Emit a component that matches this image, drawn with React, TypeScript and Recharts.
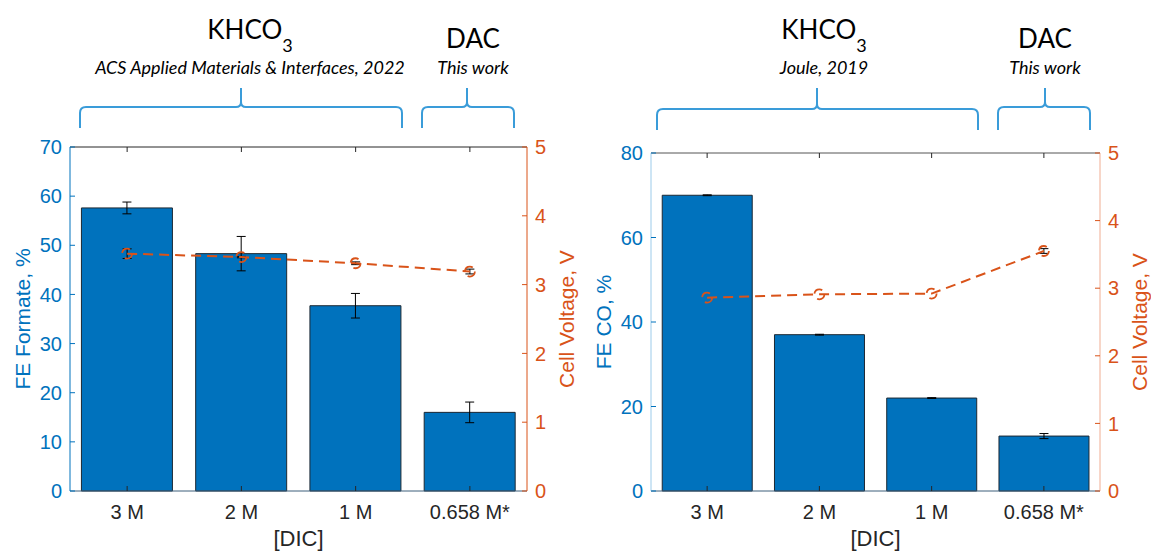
import React from "react";
import {
  ComposedChart,
  Bar,
  Line,
  XAxis,
  YAxis,
  ErrorBar,
  ReferenceLine,
} from "recharts";

// ---- data ----
const CATEGORIES = ["3 M", "2 M", "1 M", "0.658 M*"];

// left panel: formate (ACS AMI 2022 vs this work)
const FORMATE_FE = [57.6, 48.3, 37.7, 16.0];
const FORMATE_FE_ERR = [1.2, 3.5, 2.5, 2.1];
const FORMATE_VOLT = [3.45, 3.4, 3.31, 3.19];
const FORMATE_VOLT_ERR = [0.07, 0.01, 0.02, 0.035];
const FORMATE_TICKS = [0, 10, 20, 30, 40, 50, 60, 70];

// right panel: CO (Joule 2019 vs this work)
const CO_FE = [70.0, 37.0, 22.0, 13.0];
const CO_FE_ERR = [0.1, 0.1, 0.1, 0.6];
const CO_VOLT = [2.86, 2.91, 2.92, 3.55];
const CO_VOLT_ERR = [0, 0, 0, 0.035];
const CO_TICKS = [0, 20, 40, 60, 80];

const VOLT_TICKS = [0, 1, 2, 3, 4, 5];

const BLUE = "#0072BD";
const ORANGE = "#D95319";
const DARK = "#262626";
const BRACE = "#3a9cd9";
const AXIS_FONT = "'Liberation Sans', Arial, Helvetica, sans-serif";
const NOTE_FONT = "Lato, 'Open Sans', sans-serif";

const TICK_MARGIN = 8;
const TICK_LEN = 5;
const X_TICK_MARGIN = 14;

const buildRows = (fe: number[], feErr: number[], volt: number[], voltErr: number[]) =>
  CATEGORIES.map((c, i) => ({
    dic: c,
    fe: fe[i],
    feErr: feErr[i],
    volt: volt[i],
    voltErr: voltErr[i],
  }));

const formateRows = buildRows(FORMATE_FE, FORMATE_FE_ERR, FORMATE_VOLT, FORMATE_VOLT_ERR);
const coRows = buildRows(CO_FE, CO_FE_ERR, CO_VOLT, CO_VOLT_ERR);

// MATLAB style: tick marks point into the plot box
const LeftTick = (props: any) => {
  const { x, y, payload } = props;
  const ax = x + TICK_MARGIN;
  return (
    <g>
      <line x1={ax} y1={y} x2={ax + TICK_LEN} y2={y} stroke={BLUE} strokeWidth={1} />
      <text x={x} y={y} dy="0.36em" textAnchor="end" fill={BLUE} fontSize={20} fontFamily={AXIS_FONT}>
        {payload.value}
      </text>
    </g>
  );
};

const RightTick = (props: any) => {
  const { x, y, payload } = props;
  const ax = x - TICK_MARGIN;
  return (
    <g>
      <line x1={ax} y1={y} x2={ax - TICK_LEN} y2={y} stroke={ORANGE} strokeWidth={1} />
      <text x={x} y={y} dy="0.36em" textAnchor="start" fill={ORANGE} fontSize={20} fontFamily={AXIS_FONT}>
        {payload.value}
      </text>
    </g>
  );
};

const makeBottomTick = (plotTop: number) => (props: any) => {
  const { x, y, payload } = props;
  const ay = y - X_TICK_MARGIN;
  return (
    <g>
      <line x1={x} y1={ay} x2={x} y2={ay - TICK_LEN} stroke={DARK} strokeWidth={1} />
      <line x1={x} y1={plotTop} x2={x} y2={plotTop + TICK_LEN} stroke={DARK} strokeWidth={1} />
      <text x={x} y={y} dy="0.72em" textAnchor="middle" fill={DARK} fontSize={20} fontFamily={AXIS_FONT}>
        {payload.value}
      </text>
    </g>
  );
};

const yTitle = (text: string, color: string, dx: number) => (props: any) => {
  const vb = props.viewBox;
  if (!vb) return null;
  const cx = vb.x + dx;
  const cy = vb.y + vb.height / 2;
  return (
    <text
      x={cx}
      y={cy}
      transform={`rotate(-90, ${cx}, ${cy})`}
      textAnchor="middle"
      dominantBaseline="central"
      fill={color}
      fontSize={21}
      fontFamily={AXIS_FONT}
    >
      {text}
    </text>
  );
};

const xTitle = (props: any) => {
  const vb = props.viewBox;
  if (!vb) return null;
  return (
    <text
      x={vb.x + vb.width / 2}
      y={vb.y + 55}
      textAnchor="middle"
      fill={DARK}
      fontSize={22}
      fontFamily={AXIS_FONT}
    >
      [DIC]
    </text>
  );
};

type PanelProps = {
  rows: any[];
  width: number;
  margin: { top: number; right: number; bottom: number; left: number };
  feMax: number;
  feTicks: number[];
  feLabel: string;
  leftAxisColor: string;
  rightAxisColor: string;
  topColor: string;
};

function Panel({ rows, width, margin, feMax, feTicks, feLabel, leftAxisColor, rightAxisColor, topColor }: PanelProps) {
  return (
    <ComposedChart width={width} height={551} data={rows} margin={margin} barCategoryGap="10%">
      <XAxis
        dataKey="dic"
        height={60}
        tickSize={0}
        tickMargin={X_TICK_MARGIN}
        axisLine={{ stroke: "#3d5f7a" }}
        tick={makeBottomTick(margin.top)}
        interval={0}
        label={xTitle}
      />
      <YAxis
        yAxisId="left"
        width={60}
        domain={[0, feMax]}
        ticks={feTicks}
        tickSize={0}
        tickMargin={TICK_MARGIN}
        axisLine={{ stroke: leftAxisColor }}
        tick={LeftTick}
        label={yTitle(feLabel, BLUE, 12)}
      />
      <YAxis
        yAxisId="right"
        orientation="right"
        width={45}
        domain={[0, 5]}
        ticks={VOLT_TICKS}
        tickSize={0}
        tickMargin={TICK_MARGIN}
        axisLine={{ stroke: rightAxisColor }}
        tick={RightTick}
        label={yTitle("Cell Voltage, V", ORANGE, 39)}
      />
      <ReferenceLine yAxisId="left" y={feMax} stroke={topColor} strokeWidth={1} />
      <Bar
        yAxisId="left"
        dataKey="fe"
        fill={BLUE}
        stroke="#1c2833"
        strokeWidth={1}
        isAnimationActive={false}
      >
        <ErrorBar dataKey="feErr" width={4.5} stroke="#000" strokeWidth={1} direction="y" />
      </Bar>
      <Line
        yAxisId="right"
        dataKey="volt"
        stroke={ORANGE}
        strokeWidth={2}
        strokeDasharray="10 6"
        dot={{ r: 5, stroke: ORANGE, strokeWidth: 1.8, fill: "none" }}
        activeDot={false}
        isAnimationActive={false}
      >
        <ErrorBar dataKey="voltErr" width={4.5} stroke="#000" strokeWidth={1} direction="y" />
      </Line>
    </ComposedChart>
  );
}

// curly brace opening downward with a tip pointing up
function bracePath(x0: number, x1: number, xm: number, yTip: number, yH: number, yEnd: number) {
  const r = 6;
  const rt = 5;
  return [
    `M ${x0} ${yEnd}`,
    `L ${x0} ${yH + r}`,
    `Q ${x0} ${yH} ${x0 + r} ${yH}`,
    `L ${xm - rt} ${yH}`,
    `Q ${xm} ${yH} ${xm} ${yH - rt}`,
    `L ${xm} ${yTip}`,
    `M ${xm} ${yH - rt}`,
    `Q ${xm} ${yH} ${xm + rt} ${yH}`,
    `L ${x1 - r} ${yH}`,
    `Q ${x1} ${yH} ${x1} ${yH + r}`,
    `L ${x1} ${yEnd}`,
  ].join(" ");
}

function Header({ cx, title, sub, big }: { cx: number; title: string; sub: string; big: boolean }) {
  return (
    <g fontFamily={NOTE_FONT} fill="#000">
      {big ? (
        <text x={cx} y={39} textAnchor="middle" fontSize={26}>
          {title}
          <tspan fontSize={18} dy={13}>3</tspan>
        </text>
      ) : (
        <text x={cx} y={48} textAnchor="middle" fontSize={26}>
          {title}
        </text>
      )}
      <text x={cx} y={74} textAnchor="middle" fontSize={18} fontStyle="italic">
        {sub}
      </text>
    </g>
  );
}

export default function App() {
  return (
    <div style={{ position: "absolute", left: 0, top: 0, width: 1151, height: 551, background: "#fff", overflow: "hidden" }}>
      <div style={{ position: "absolute", left: 0, top: 0 }}>
        <Panel
          rows={formateRows}
          width={580}
          margin={{ top: 147, right: 8, bottom: 0, left: 10 }}
          feMax={70}
          feTicks={FORMATE_TICKS}
          feLabel="FE Formate, %"
          leftAxisColor={BLUE}
          rightAxisColor={ORANGE}
          topColor={DARK}
        />
      </div>
      <div style={{ position: "absolute", left: 580, top: 0 }}>
        <Panel
          rows={coRows}
          width={571}
          margin={{ top: 153, right: 6, bottom: 0, left: 11 }}
          feMax={80}
          feTicks={CO_TICKS}
          feLabel="FE CO, %"
          leftAxisColor="#9ccbea"
          rightAxisColor="#f0ad92"
          topColor="#555"
        />
      </div>
      <svg width={1151} height={140} style={{ position: "absolute", left: 0, top: 0 }}>
        <Header cx={250} title="KHCO" sub="ACS Applied Materials & Interfaces, 2022" big />
        <Header cx={473} title="DAC" sub="This work" big={false} />
        <Header cx={824} title="KHCO" sub="Joule, 2019" big />
        <Header cx={1045} title="DAC" sub="This work" big={false} />
        <g fill="none" stroke={BRACE} strokeWidth={2}>
          <path d={bracePath(80, 402, 241, 88, 107, 128)} />
          <path d={bracePath(422, 514, 467, 88, 107, 128)} />
          <path d={bracePath(657, 978, 817, 88, 109, 130)} />
          <path d={bracePath(998, 1090, 1045, 88, 107, 130)} />
        </g>
      </svg>
    </div>
  );
}
